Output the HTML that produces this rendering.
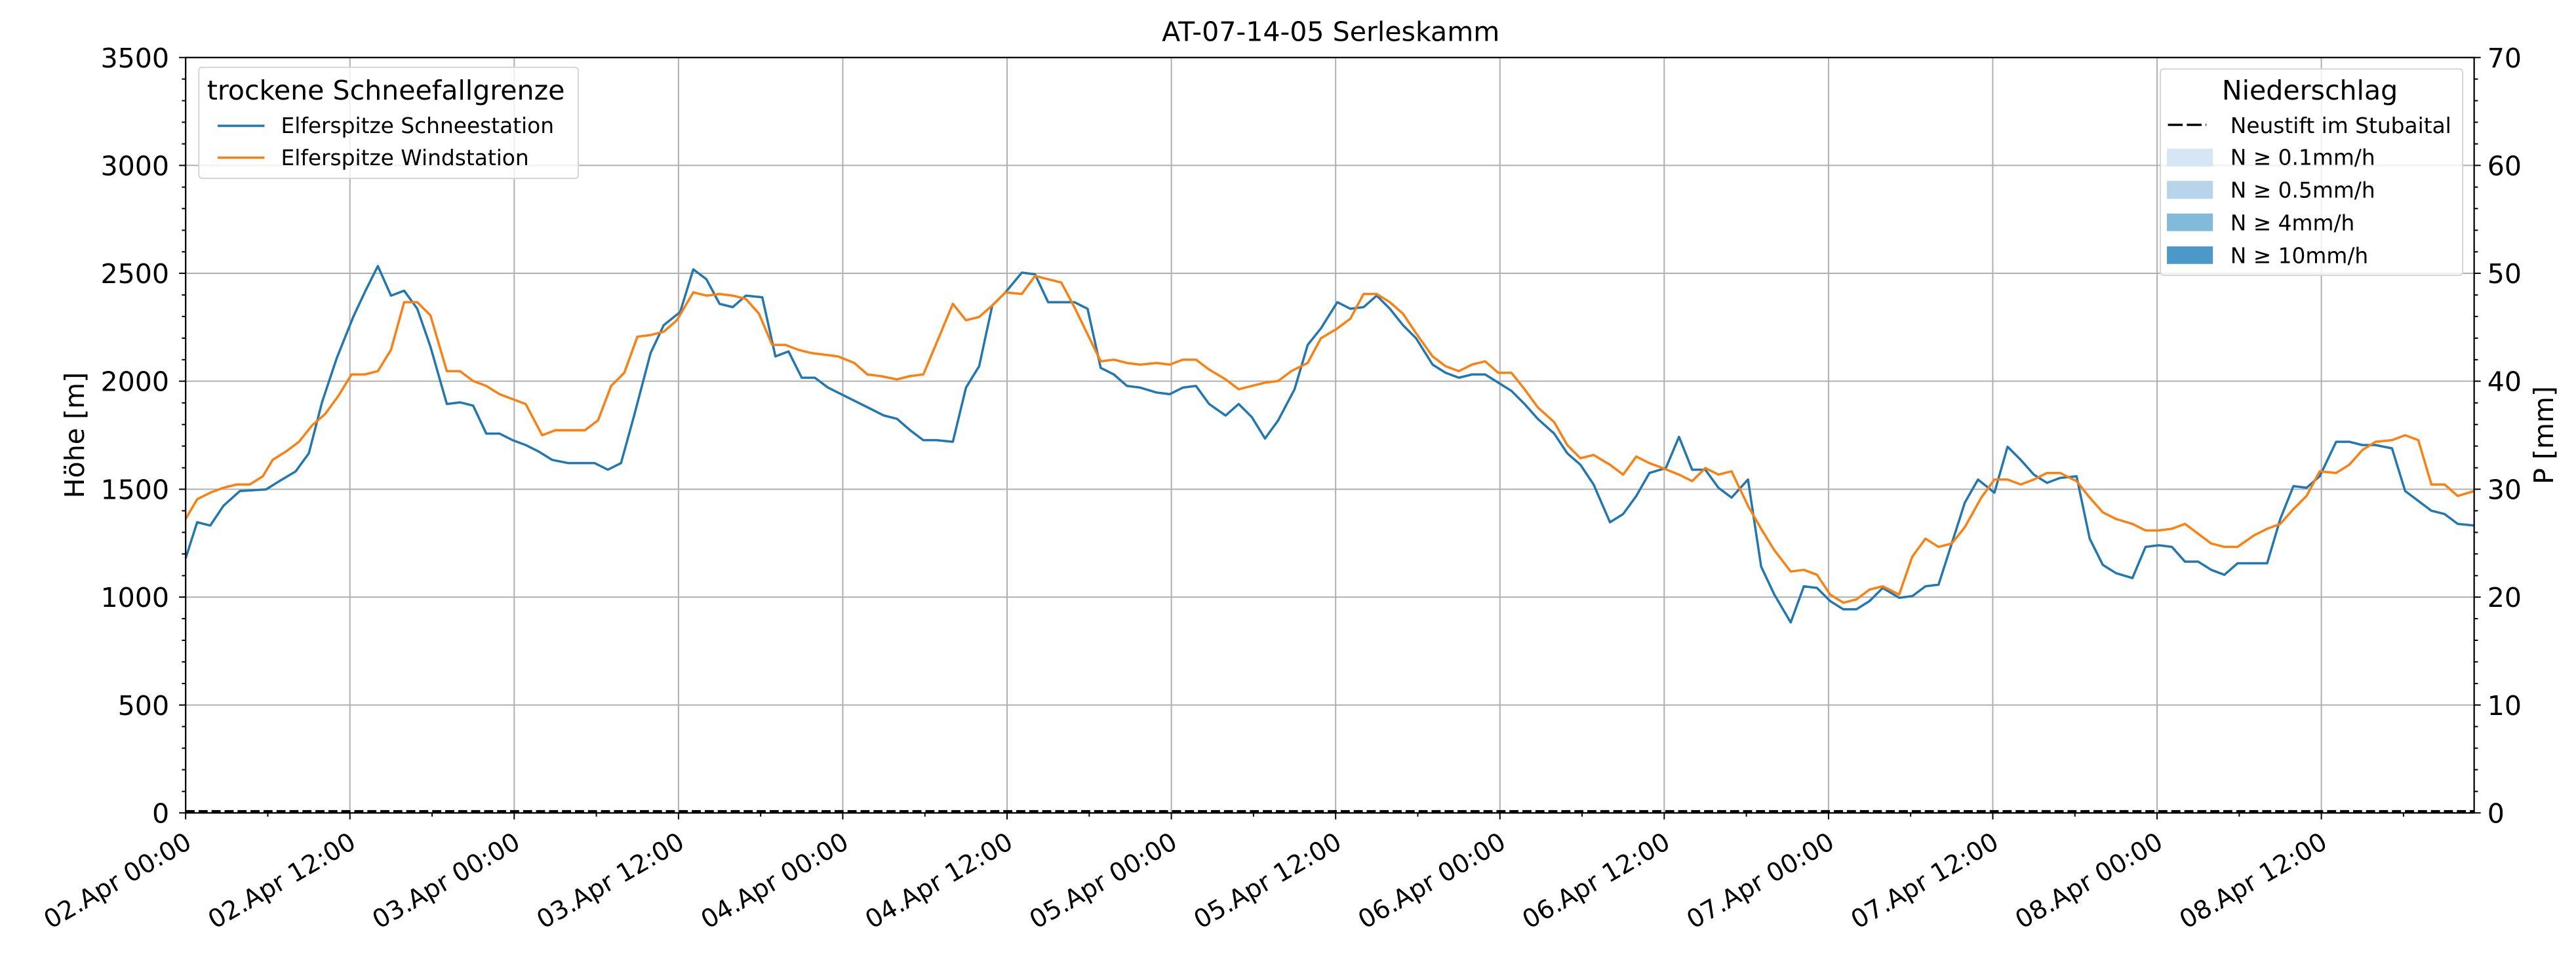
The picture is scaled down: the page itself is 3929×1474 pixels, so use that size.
<!DOCTYPE html>
<html><head><meta charset="utf-8"><style>
html,body{margin:0;padding:0;background:#fff}
svg{display:block}
text{font-family:"DejaVu Sans","Liberation Sans",sans-serif;fill:#000}
</style></head><body>
<svg width="3929" height="1474" viewBox="0 0 1568 588.2" xmlns="http://www.w3.org/2000/svg">
<rect width="1568" height="588.2" fill="#fff"/>
<text x="810" y="25" font-size="16.4" text-anchor="middle">AT-07-14-05 Serleskamm</text>
<g stroke="#b0b0b0" stroke-width="0.8">
<line x1="213" y1="35" x2="213" y2="495"/><line x1="313" y1="35" x2="313" y2="495"/><line x1="413" y1="35" x2="413" y2="495"/><line x1="513" y1="35" x2="513" y2="495"/><line x1="613" y1="35" x2="613" y2="495"/><line x1="713" y1="35" x2="713" y2="495"/><line x1="813" y1="35" x2="813" y2="495"/><line x1="913" y1="35" x2="913" y2="495"/><line x1="1013" y1="35" x2="1013" y2="495"/><line x1="1113" y1="35" x2="1113" y2="495"/><line x1="1213" y1="35" x2="1213" y2="495"/><line x1="1313" y1="35" x2="1313" y2="495"/><line x1="1413" y1="35" x2="1413" y2="495"/>
<line x1="113" y1="429.3" x2="1506" y2="429.3"/><line x1="113" y1="363.6" x2="1506" y2="363.6"/><line x1="113" y1="297.9" x2="1506" y2="297.9"/><line x1="113" y1="232.1" x2="1506" y2="232.1"/><line x1="113" y1="166.4" x2="1506" y2="166.4"/><line x1="113" y1="100.7" x2="1506" y2="100.7"/>
</g>
<polyline fill="none" stroke="#1f77b4" stroke-width="1.4" stroke-linejoin="round" points="113,340 120,318 128,320 136,308 146,299 162,298 170,293 180,287 188,276 196,245 205,218 215,193 222,178 230,162 238,180 246,177 254,188 262,211 272,246 280,245 288,247 296,264 304,264 312,268 320,271 328,275 336,280 346,282 354,282 362,282 370,286 378,282 386,253 396,215 404,198 414,190 422,164 430,170 438,185 446,187 454,180 464,181 472,217 480,214 488,230 496,230 504,236 512,240 520,244 530,249 538,253 546,255 554,262 562,268 570,268 580,269 588,236 596,223 604,186 612,178 622,166 630,167 638,184 646,184 654,184 662,188 670,224 678,228 686,235 694,236 704,239 712,240 720,236 728,235 736,246 746,253 754,246 762,254 770,267 778,256 788,237 796,210 804,200 814,184 822,188 830,187 838,180 846,188 854,198 862,206 872,222 880,227 888,230 896,228 904,228 912,233 920,238 928,246 936,255 946,264 954,276 962,283 970,295 980,318 988,313 996,302 1004,288 1014,285 1022,266 1030,286 1038,286 1046,297 1054,303 1064,292 1072,345 1080,362 1090,379 1098,357 1106,358 1114,366 1122,371 1130,371 1138,366 1146,358 1156,364 1164,363 1172,357 1180,356 1188,331 1196,306 1204,292 1214,300 1222,272 1230,280 1238,289 1246,294 1254,291 1264,290 1272,328 1280,344 1288,349 1298,352 1306,333 1314,332 1322,333 1330,342 1338,342 1346,347 1354,350 1362,343 1372,343 1380,343 1388,316 1396,296 1404,297 1412,290 1422,269 1430,269 1438,271 1446,271 1456,273 1464,299 1472,305 1480,311 1488,313 1496,319 1506,320"/>
<polyline fill="none" stroke="#ff7f0e" stroke-width="1.4" stroke-linejoin="round" points="113,316 120,304 128,300 136,297 144,295 152,295 160,290 166,280 174,275 182,269 190,259 198,252 206,241 214,228 222,228 230,226 238,213 246,184 254,184 262,192 272,226 280,226 288,232 296,235 304,240 312,243 320,246 330,265 338,262 346,262 356,262 364,256 372,235 380,227 388,205 396,204 404,202 412,195 422,178 430,180 438,179 446,180 454,182 462,191 470,210 478,210 486,213 494,215 502,216 510,217 520,221 528,228 536,229 546,231 554,229 562,228 570,209 580,185 588,195 596,193 604,186 612,178 622,179 630,168 638,170 646,172 654,187 670,220 678,219 686,221 694,222 704,221 712,222 720,219 728,219 736,225 746,231 754,237 762,235 770,233 778,232 786,226 796,221 804,206 814,200 822,194 830,179 838,179 846,184 854,191 862,203 872,217 880,223 888,226 896,222 904,220 912,227 920,227 928,237 936,248 946,257 954,271 962,279 970,277 980,283 988,289 996,278 1004,282 1012,285 1022,289 1030,293 1038,285 1046,289 1054,287 1064,308 1072,322 1080,335 1090,348 1098,347 1106,350 1114,362 1122,367 1130,365 1138,359 1146,357 1156,362 1164,339 1172,328 1180,333 1188,331 1196,321 1206,303 1214,292 1222,292 1230,295 1238,292 1246,288 1254,288 1264,293 1272,303 1280,312 1288,316 1298,319 1306,323 1314,323 1322,322 1330,319 1338,325 1346,331 1354,333 1362,333 1372,326 1380,322 1388,319 1396,310 1404,302 1412,287 1422,288 1430,283 1438,274 1446,269 1456,268 1464,265 1472,268 1480,295 1488,295 1496,302 1506,299"/>
<line x1="113" y1="494" x2="1506" y2="494" stroke="#000" stroke-width="1.4" stroke-dasharray="5.5,2.4"/>
<rect x="113" y="35" width="1393" height="460" fill="none" stroke="#000" stroke-width="0.9"/>
<g stroke="#000" stroke-width="0.8">
<path d="M113,495v4M213,495v4M313,495v4M413,495v4M513,495v4M613,495v4M713,495v4M813,495v4M913,495v4M1013,495v4M1113,495v4M1213,495v4M1313,495v4M1413,495v4"/>
<path d="M163,495v2.3M263,495v2.3M363,495v2.3M463,495v2.3M563,495v2.3M663,495v2.3M763,495v2.3M863,495v2.3M963,495v2.3M1063,495v2.3M1163,495v2.3M1263,495v2.3M1363,495v2.3M1463,495v2.3"/>
<path d="M113,495h-4M113,429.3h-4M113,363.6h-4M113,297.9h-4M113,232.1h-4M113,166.4h-4M113,100.7h-4M113,35h-4"/>
<path d="M1506,495h4M1506,429.3h4M1506,363.6h4M1506,297.9h4M1506,232.1h4M1506,166.4h4M1506,100.7h4M1506,35h4"/>
<path d="M113,481.9h-2.3M113,468.7h-2.3M113,455.6h-2.3M113,442.4h-2.3M113,416.2h-2.3M113,403h-2.3M113,389.9h-2.3M113,376.7h-2.3M113,350.5h-2.3M113,337.3h-2.3M113,324.2h-2.3M113,311h-2.3M113,284.8h-2.3M113,271.6h-2.3M113,258.5h-2.3M113,245.3h-2.3M113,219h-2.3M113,205.9h-2.3M113,192.7h-2.3M113,179.6h-2.3M113,153.3h-2.3M113,140.2h-2.3M113,127h-2.3M113,113.9h-2.3M113,87.6h-2.3M113,74.4h-2.3M113,61.3h-2.3M113,48.1h-2.3"/>
<path d="M1506,481.9h2.3M1506,468.7h2.3M1506,455.6h2.3M1506,442.4h2.3M1506,416.2h2.3M1506,403h2.3M1506,389.9h2.3M1506,376.7h2.3M1506,350.5h2.3M1506,337.3h2.3M1506,324.2h2.3M1506,311h2.3M1506,284.8h2.3M1506,271.6h2.3M1506,258.5h2.3M1506,245.3h2.3M1506,219h2.3M1506,205.9h2.3M1506,192.7h2.3M1506,179.6h2.3M1506,153.3h2.3M1506,140.2h2.3M1506,127h2.3M1506,113.9h2.3M1506,87.6h2.3M1506,74.4h2.3M1506,61.3h2.3M1506,48.1h2.3"/>
</g>
<g font-size="16.4" text-anchor="end">
<text x="103" y="501">0</text><text x="103" y="435.3">500</text><text x="103" y="369.6">1000</text><text x="103" y="303.9">1500</text><text x="103" y="238.1">2000</text><text x="103" y="172.4">2500</text><text x="103" y="106.7">3000</text><text x="103" y="41">3500</text>
</g>
<g font-size="16.4" text-anchor="start">
<text x="1514" y="501">0</text><text x="1514" y="435.3">10</text><text x="1514" y="369.6">20</text><text x="1514" y="303.9">30</text><text x="1514" y="238.1">40</text><text x="1514" y="172.4">50</text><text x="1514" y="106.7">60</text><text x="1514" y="41">70</text>
</g>
<text font-size="16.4" text-anchor="middle" transform="translate(51,265) rotate(-90)">Höhe [m]</text>
<text font-size="16.4" text-anchor="middle" transform="translate(1554,265) rotate(-90)">P [mm]</text>
<g font-size="15.4" text-anchor="end">
<text transform="translate(112,506) rotate(-30)" dy="11.2">02.Apr 00:00</text>
<text transform="translate(212,506) rotate(-30)" dy="11.2">02.Apr 12:00</text>
<text transform="translate(312,506) rotate(-30)" dy="11.2">03.Apr 00:00</text>
<text transform="translate(412,506) rotate(-30)" dy="11.2">03.Apr 12:00</text>
<text transform="translate(512,506) rotate(-30)" dy="11.2">04.Apr 00:00</text>
<text transform="translate(612,506) rotate(-30)" dy="11.2">04.Apr 12:00</text>
<text transform="translate(712,506) rotate(-30)" dy="11.2">05.Apr 00:00</text>
<text transform="translate(812,506) rotate(-30)" dy="11.2">05.Apr 12:00</text>
<text transform="translate(912,506) rotate(-30)" dy="11.2">06.Apr 00:00</text>
<text transform="translate(1012,506) rotate(-30)" dy="11.2">06.Apr 12:00</text>
<text transform="translate(1112,506) rotate(-30)" dy="11.2">07.Apr 00:00</text>
<text transform="translate(1212,506) rotate(-30)" dy="11.2">07.Apr 12:00</text>
<text transform="translate(1312,506) rotate(-30)" dy="11.2">08.Apr 00:00</text>
<text transform="translate(1412,506) rotate(-30)" dy="11.2">08.Apr 12:00</text>
</g>
<rect x="121" y="41" width="231" height="67.6" rx="2" fill="#fff" fill-opacity="0.8" stroke="#d5d5d5" stroke-width="0.8"/>
<text x="126" y="60.7" font-size="16.4">trockene Schneefallgrenze</text>
<line x1="132.5" y1="76.6" x2="161" y2="76.6" stroke="#1f77b4" stroke-width="1.4"/>
<text x="171" y="81" font-size="13.1">Elferspitze Schneestation</text>
<line x1="132.5" y1="96" x2="161" y2="96" stroke="#ff7f0e" stroke-width="1.4"/>
<text x="171" y="100.6" font-size="13.1">Elferspitze Windstation</text>
<rect x="1315" y="42" width="184" height="125.6" rx="2" fill="#fff" fill-opacity="0.8" stroke="#d5d5d5" stroke-width="0.8"/>
<text x="1406" y="60.6" font-size="16.4" text-anchor="middle">Niederschlag</text>
<line x1="1319.6" y1="76" x2="1343" y2="76" stroke="#000" stroke-width="1.4" stroke-dasharray="9,2.5"/>
<text x="1357.6" y="81" font-size="13.1">Neustift im Stubaital</text>
<rect x="1319" y="90.6" width="28" height="10.8" fill="#d6e6f4"/>
<text x="1357.6" y="100.4" font-size="13.1">N ≥ 0.1mm/h</text>
<rect x="1319" y="110.1" width="28" height="11" fill="#b7d4ea"/>
<text x="1357.6" y="120.4" font-size="13.1">N ≥ 0.5mm/h</text>
<rect x="1319" y="130" width="28" height="10.7" fill="#82badb"/>
<text x="1357.6" y="140.3" font-size="13.1">N ≥ 4mm/h</text>
<rect x="1319" y="150" width="28" height="10.7" fill="#4b98c9"/>
<text x="1357.6" y="160.3" font-size="13.1">N ≥ 10mm/h</text>
</svg>
</body></html>
